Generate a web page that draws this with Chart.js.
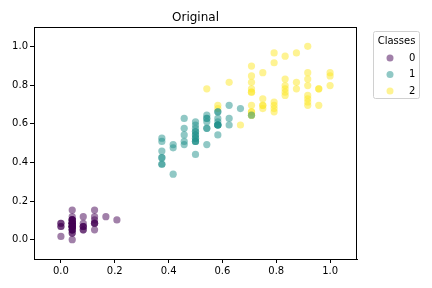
<!DOCTYPE html>
<html>
<head>
<meta charset="utf-8">
<script src="https://cdn.jsdelivr.net/npm/chart.js@4"></script>
<style>
  html, body { margin: 0; padding: 0; background: #fff; }
  #chart { display: block; }
</style>
</head>
<body>
<canvas id="chart" width="432" height="288"></canvas>
<script>
// Scaled petal width (x) / petal length (y), one pair of arrays per class
const classNames = ['0', '1', '2'];
const classColors = ['68, 1, 84', '33, 145, 140', '253, 231, 37'];

const x0 = [.042,.042,.042,.042,.042,.125,.083,.042,.042,0,.042,.042,0,0,.042,.125,.125,.083,.083,.083,.042,.125,.042,.167,.042,.042,.125,.042,.042,.042,.042,.125,0,.042,.042,.042,.042,0,.042,.042,.083,.083,.042,.208,.125,.083,.042,.042,.042,.042];
const y0 = [.068,.068,.051,.085,.068,.119,.068,.085,.068,.085,.085,.102,.068,.017,.034,.085,.051,.068,.119,.085,.119,.085,0,.119,.153,.102,.102,.085,.068,.102,.102,.085,.085,.068,.085,.034,.051,.068,.051,.085,.051,.051,.051,.102,.153,.068,.102,.068,.085,.068];

const x1 = [.542,.583,.583,.5,.583,.5,.625,.375,.5,.542,.375,.583,.375,.542,.5,.542,.583,.375,.583,.417,.708,.5,.583,.458,.5,.542,.542,.667,.583,.375,.417,.375,.458,.625,.583,.625,.583,.5,.5,.5,.458,.542,.458,.375,.5,.458,.5,.5,.417,.5];
const y1 = [.627,.593,.661,.508,.610,.593,.627,.390,.610,.492,.424,.542,.508,.627,.441,.576,.593,.525,.593,.492,.644,.508,.661,.627,.559,.576,.644,.678,.593,.424,.475,.458,.492,.695,.593,.593,.627,.576,.525,.508,.576,.610,.508,.390,.542,.542,.542,.559,.339,.525];

const x2 = [1,.75,.833,.708,.875,.833,.667,.708,.708,1,.792,.75,.833,.792,.958,.917,.708,.875,.917,.583,.917,.792,.792,.708,.833,.708,.708,.708,.833,.625,.75,.792,.875,.583,.542,.917,.958,.708,.708,.833,.958,.917,.75,.917,1,.917,.75,.792,.917,.708];
const y2 = [.847,.695,.831,.780,.814,.949,.593,.898,.814,.864,.695,.729,.763,.678,.695,.729,.763,.966,1,.678,.797,.661,.966,.661,.797,.847,.644,.661,.780,.814,.864,.915,.780,.695,.780,.864,.780,.763,.644,.746,.780,.695,.695,.831,.797,.712,.678,.712,.746,.695];

const xTicks = [0, 0.2, 0.4, 0.6, 0.8, 1.0];
const yTicks = [0, 0.2, 0.4, 0.6, 0.8, 1.0];

const xs = [x0, x1, x2];
const ys = [y0, y1, y2];

const FONT = 'DejaVu Sans';

// Frame, title and legend drawn on top of the chart
const decorations = {
    id: 'decorations',
    afterDraw(chart) {
        const ctx = chart.ctx;
        const a = chart.chartArea;
        ctx.save();

        // axes box (top and right; left/bottom come from the scales)
        ctx.fillStyle = '#000';
        ctx.fillRect(Math.round(a.left), Math.round(a.top), Math.round(a.right - a.left), 1);
        ctx.fillRect(Math.round(a.right) - 1, Math.round(a.top), 1, Math.round(a.bottom - a.top));

        // title
        ctx.font = '12px "' + FONT + '"';
        ctx.textAlign = 'center';
        ctx.textBaseline = 'alphabetic';
        ctx.fillText('Original', (a.left + a.right) / 2, 21);

        // legend box
        const bx = 373.5, by = 31.5, bw = 46, bh = 67;
        ctx.beginPath();
        ctx.roundRect(bx, by, bw, bh, 2);
        ctx.fillStyle = 'rgba(255,255,255,0.8)';
        ctx.fill();
        ctx.strokeStyle = '#d0d0d0';
        ctx.lineWidth = 1;
        ctx.stroke();

        ctx.fillStyle = '#000';
        ctx.font = '10px "' + FONT + '"';
        ctx.textBaseline = 'middle';
        ctx.textAlign = 'center';
        ctx.fillText('Classes', bx + bw / 2, 41);

        classNames.forEach((name, i) => {
            const cy = 58 + i * 16.5;
            ctx.beginPath();
            ctx.arc(390, cy, 3.5, 0, Math.PI * 2);
            ctx.fillStyle = 'rgba(' + classColors[i] + ', 0.5)';
            ctx.fill();
            ctx.fillStyle = '#000';
            ctx.textAlign = 'left';
            ctx.fillText(name, 409, cy);
        });
        ctx.restore();
    }
};

const datasets = classNames.map((name, i) => ({
    label: name,
    data: xs[i].map((x, j) => ({ x: x, y: ys[i][j] })),
    backgroundColor: 'rgba(' + classColors[i] + ', 0.5)',
    borderWidth: 0,
    pointRadius: 3.6,
    pointHoverRadius: 3.6
}));

new Chart(document.getElementById('chart').getContext('2d'), {
    type: 'scatter',
    data: { datasets: datasets },
    options: {
        responsive: false,
        animation: false,
        devicePixelRatio: 1,
        layout: { padding: { top: 27, right: 75, left: 0, bottom: 0 } },
        plugins: {
            legend: { display: false },
            title: { display: false },
            tooltip: { enabled: false }
        },
        scales: {
            x: {
                type: 'linear',
                min: -0.1,
                max: 1.1,
                afterBuildTicks: scale => { scale.ticks = xTicks.map(v => ({ value: v })); },
                afterFit: scale => { scale.height = 29; },
                grid: { drawOnChartArea: false, drawTicks: true, tickLength: 4, color: '#000' },
                border: { display: true, color: '#000' },
                ticks: {
                    color: '#000',
                    font: { family: FONT, size: 10 },
                    padding: 2,
                    maxRotation: 0,
                    callback: v => v.toFixed(1)
                }
            },
            y: {
                type: 'linear',
                min: -0.1,
                max: 1.1,
                afterBuildTicks: scale => { scale.ticks = yTicks.map(v => ({ value: v })); },
                afterFit: scale => { scale.width = 34; },
                grid: { drawOnChartArea: false, drawTicks: true, tickLength: 4, color: '#000' },
                border: { display: true, color: '#000' },
                ticks: {
                    color: '#000',
                    font: { family: FONT, size: 10 },
                    padding: 2,
                    callback: v => v.toFixed(1)
                }
            }
        }
    },
    plugins: [decorations]
});
</script>
</body>
</html>
